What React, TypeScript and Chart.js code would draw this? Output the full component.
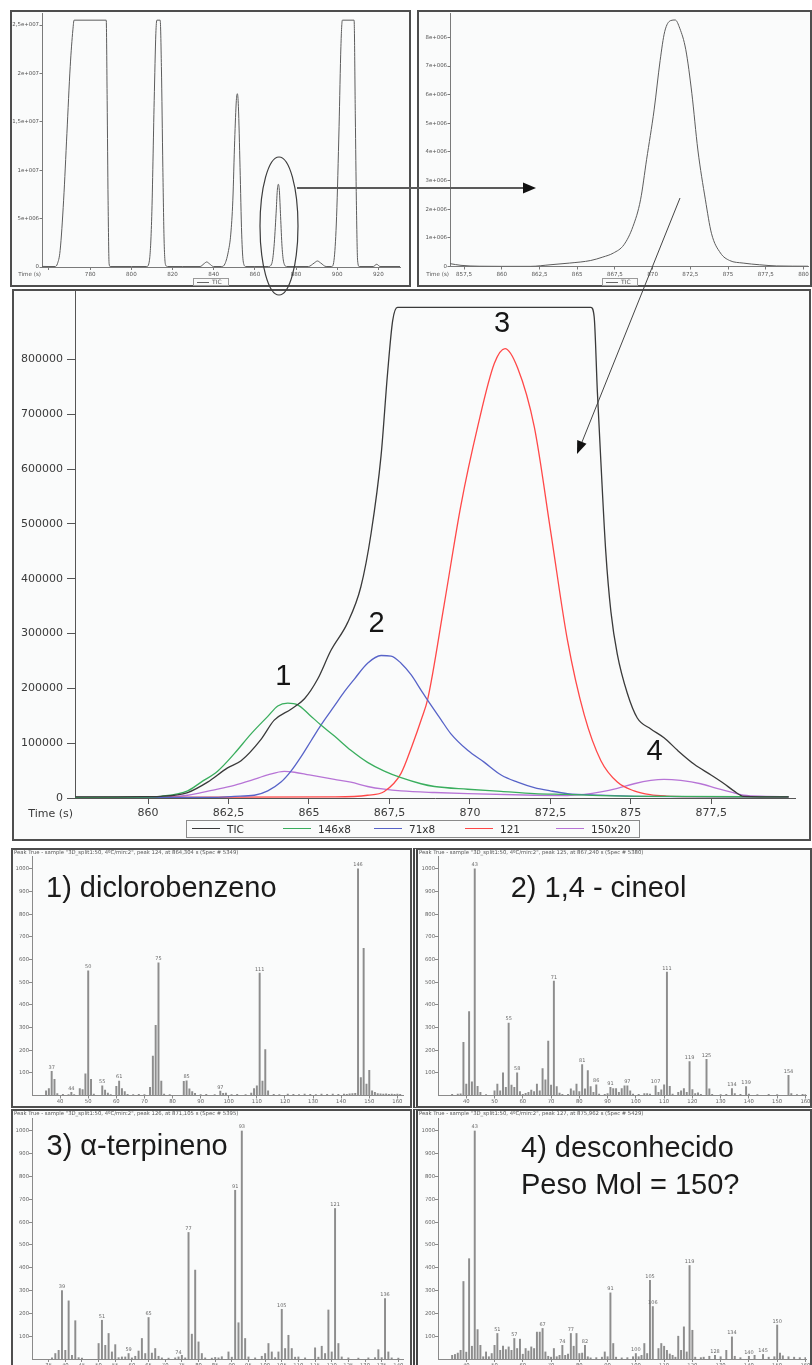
import React, { useEffect, useRef } from "react";
import { Chart, registerables } from "chart.js";

Chart.register(...registerables);

type Pair = [number, number];
type Frame = { cl: number; ct: number; cw: number; ch: number; al: number; at: number; ar: number; ab: number };

const UI_FONT = '"DejaVu Sans", Verdana, sans-serif';
const LABEL_FONT = '"Liberation Sans", Arial, sans-serif';

// ---------- Full run TIC (time s, counts) ----------
const runTic: Pair[] = [
  [756.6, 60000], [760, 50000], [763, 50000], [764.1, 340000], [765.4, 1700000], [767.1, 6900000],
  [768.7, 13800000], [770.3, 20700000], [771.6, 24500000], [772.2, 25500000], [787.8, 25500000],
  [788.25, 17200000], [788.7, 6900000], [789.2, 340000], [789.7, 50000], [800, 50000], [807.5, 50000],
  [808.8, 700000], [809.9, 5200000], [811.1, 17200000], [811.9, 24100000], [812.4, 25500000],
  [814.0, 25500000], [814.6, 20700000], [815.3, 10300000], [815.9, 2800000], [816.7, 170000],
  [817.7, 50000], [825, 50000], [833.4, 50000], [835.3, 340000], [836.6, 520000], [837.9, 340000],
  [839.9, 50000], [843.9, 50000], [845.5, 340000], [847.2, 1700000], [848.3, 3400000], [849.3, 6900000],
  [850.2, 13100000], [851.0, 17200000], [851.5, 17900000], [852.0, 16600000], [852.8, 10300000],
  [853.6, 3400000], [854.4, 500000], [855.6, 50000], [860, 50000], [866.6, 50000], [868.2, 340000],
  [869.3, 2100000], [870.3, 5500000], [870.9, 7900000], [871.4, 8550000], [871.9, 7900000],
  [872.5, 5200000], [873.2, 2100000], [874.0, 500000], [875.5, 50000], [880, 50000], [886.0, 50000],
  [888.8, 410000], [890.4, 620000], [892.0, 410000], [894.6, 50000], [897.3, 50000], [898.6, 1000000],
  [899.7, 5200000], [900.9, 14500000], [901.8, 22800000], [902.5, 25500000], [908.2, 25500000],
  [908.8, 15500000], [909.3, 6900000], [909.9, 700000], [910.7, 50000], [917.5, 50000],
  [919.2, 280000], [920.8, 50000], [930.5, 50000],
];

// ---------- TIC around 857-880 s ----------
const windowTic: Pair[] = [
  [856.57, 100000], [857.3, 40000], [858.5, 10000], [860, 5000], [861.9, 5000], [863.2, 60000],
  [864.5, 120000], [865.9, 210000], [866.7, 330000], [867.4, 470000], [868.1, 760000],
  [868.7, 1400000], [869.2, 2330000], [869.6, 3730000], [870.1, 5470000], [870.5, 7200000],
  [870.8, 8200000], [871.2, 8590000], [871.5, 8610000], [871.8, 8320000], [872.2, 7570000],
  [872.6, 6050000], [873.0, 4070000], [873.5, 2330000], [873.9, 1160000], [874.5, 470000],
  [875.1, 210000], [876.0, 120000], [877.1, 60000], [878.2, 20000], [880.33, 10000],
];

// ---------- Detail: TIC and extracted ions ----------
const ticTrace: Pair[] = [
  [857.73, 2000], [859, 2000], [860, 2500], [860.4, 3000], [861.23, 10000], [861.85, 29000],
  [862.47, 55000], [862.89, 68000], [863.51, 107000], [863.92, 142000], [864.44, 162000],
  [864.86, 181000], [865.27, 217000], [865.68, 269000], [866.2, 320000], [866.61, 385000],
  [866.93, 483000], [867.24, 625000], [867.44, 774000], [867.6, 871000], [867.75, 895000],
  [873.76, 895000], [873.86, 878000], [873.96, 741000], [874.07, 612000], [874.22, 450000],
  [874.38, 340000], [874.58, 262000], [874.89, 191000], [875.2, 146000], [875.62, 126000],
  [876.03, 110000], [876.45, 87000], [876.97, 61500], [877.49, 42000], [877.9, 26000],
  [878.2, 13000], [878.5, 3000], [879.9, 2000],
];
const ion146x8: Pair[] = [
  [857.73, 1000], [860, 1500], [860.4, 3000], [861.23, 13000], [861.65, 29000], [862.16, 49000],
  [862.68, 81000], [863.2, 117000], [863.72, 149000], [864.03, 168000], [864.34, 173000],
  [864.65, 170000], [865.01, 152000], [865.37, 133000], [865.79, 113000], [866.3, 87000],
  [866.82, 65000], [867.34, 49000], [867.86, 37000], [868.48, 26000], [868.9, 21000],
  [869.93, 16000], [870.97, 12000], [872, 8000], [873, 6500], [874.07, 4500], [876.1, 3000],
  [879.9, 2000],
];
const ion71x8: Pair[] = [
  [857.73, 1000], [862, 1000], [862.68, 3000], [863.3, 5000], [863.72, 13000], [864.13, 29000],
  [864.44, 49000], [864.75, 75000], [865.06, 104000], [865.37, 133000], [865.79, 168000],
  [866.1, 194000], [866.41, 217000], [866.82, 246000], [867.24, 260000], [867.55, 259000],
  [867.86, 246000], [868.17, 225000], [868.48, 197000], [868.69, 178000], [869.1, 143000],
  [869.41, 117000], [869.93, 87000], [870.45, 65000], [870.97, 42000], [871.48, 29000],
  [872, 19000], [872.5, 13000], [873.03, 8000], [874.07, 5000], [875.1, 3000], [879.9, 2000],
];
const ion121: Pair[] = [
  [857.73, 1000], [865.79, 2000], [866.82, 5000], [867.34, 12000], [867.86, 45000], [868.2, 95000],
  [868.5, 145000], [868.69, 181000], [869.2, 353000], [869.72, 534000], [870.24, 677000],
  [870.76, 793000], [871.09, 820000], [871.48, 785000], [872, 677000], [872.52, 482000],
  [873.03, 288000], [873.55, 152000], [874.07, 68000], [874.58, 29000], [875.1, 13000],
  [875.6, 6000], [876.1, 3500], [877, 2500], [879.9, 2000],
];
const ion150x20: Pair[] = [
  [857.73, 1000], [860.5, 1500], [861.23, 5000], [861.65, 10000], [862.16, 16000], [862.68, 23000],
  [863.2, 32000], [863.72, 42000], [864.23, 48500], [864.55, 47000], [865.01, 42000],
  [865.79, 34000], [866.3, 29000], [866.82, 21000], [867.34, 16000], [867.86, 13000],
  [868.9, 10000], [869.93, 8000], [872, 5000], [873.03, 4500], [873.55, 6500], [874.07, 11000],
  [874.58, 17500], [875.1, 26000], [875.62, 32000], [876.03, 34000], [876.55, 32000],
  [877.17, 26000], [877.67, 17500], [878.18, 10000], [878.5, 5000], [879.2, 3000], [879.9, 2000],
];

const legendNames = ["TIC", "146x8", "71x8", "121", "150x20"];
const traceColors = ["#3a3a3a", "#3aae5e", "#5763c8", "#ff4848", "#b774d6"];
const peakNumbers = [
  { text: "1", t: 864.2, v: 221000 },
  { text: "2", t: 867.1, v: 317500 },
  { text: "3", t: 871.0, v: 865000 },
  { text: "4", t: 875.74, v: 84000 },
];

// ---------- Axis ticks ----------
const runTimeTicks = [760, 780, 800, 820, 840, 860, 880, 900, 920];
const runCountTicks = [0, 5000000, 10000000, 15000000, 20000000, 25000000];
const windowTimeTicks = [857.5, 860, 862.5, 865, 867.5, 870, 872.5, 875, 877.5, 880];
const windowCountTicks = [0, 1000000, 2000000, 3000000, 4000000, 5000000, 6000000, 7000000, 8000000];
const detailTimeTicks = [860, 862.5, 865, 867.5, 870, 872.5, 875, 877.5];
const detailCountTicks = [0, 100000, 200000, 300000, 400000, 500000, 600000, 700000, 800000];
const massTicks = [40, 50, 60, 70, 80, 90, 100, 110, 120, 130, 140, 150, 160];
const massTicksFine = [35, 40, 45, 50, 55, 60, 65, 70, 75, 80, 85, 90, 95, 100, 105, 110, 115, 120, 125, 130, 135, 140];
const intensityTicks = [100, 200, 300, 400, 500, 600, 700, 800, 900, 1000];

// ---------- Mass spectra (m/z, intensity) ----------
const spectrumDichlorobenzene: Pair[] = [
  [35, 21], [36, 31], [37, 107], [38, 71], [39, 8], [41, 5], [43, 4], [44, 14], [45, 4], [47, 31],
  [48, 26], [49, 96], [50, 550], [51, 71], [52, 6], [55, 43], [56, 24], [57, 11], [58, 4], [60, 40],
  [61, 64], [62, 31], [63, 17], [64, 5], [66, 4], [68, 5], [70, 4], [72, 36], [73, 174], [74, 310],
  [75, 585], [76, 64], [77, 6], [79, 4], [84, 62], [85, 65], [86, 29], [87, 17], [88, 10], [90, 4],
  [92, 5], [95, 4], [97, 19], [98, 10], [99, 11], [101, 4], [103, 5], [106, 4], [108, 11], [109, 31],
  [110, 43], [111, 540], [112, 64], [113, 203], [114, 21], [116, 5], [118, 4], [121, 6], [123, 5],
  [125, 4], [127, 6], [129, 5], [131, 4], [133, 6], [135, 5], [137, 6], [139, 5], [141, 6], [142, 5],
  [143, 7], [144, 8], [145, 10], [146, 1000], [147, 79], [148, 650], [149, 50], [150, 111],
  [151, 21], [152, 14], [153, 8], [154, 7], [155, 6], [156, 7], [157, 5], [158, 6], [159, 5],
  [160, 6], [161, 5],
];
const labelsDichlorobenzene = [37, 44, 50, 55, 61, 75, 85, 97, 111, 146];

const spectrumCineole: Pair[] = [
  [35, 5], [37, 6], [38, 7], [39, 235], [40, 50], [41, 370], [42, 60], [43, 1000], [44, 40], [45, 14],
  [47, 4], [50, 21], [51, 50], [52, 21], [53, 100], [54, 36], [55, 320], [56, 46], [57, 36], [58, 100],
  [59, 17], [60, 5], [61, 10], [62, 14], [63, 24], [64, 17], [65, 50], [66, 21], [67, 119], [68, 69],
  [69, 240], [70, 46], [71, 505], [72, 39], [73, 11], [74, 5], [76, 5], [77, 29], [78, 21], [79, 50],
  [80, 17], [81, 136], [82, 29], [83, 110], [84, 39], [85, 14], [86, 47], [87, 6], [89, 5], [90, 8],
  [91, 36], [92, 31], [93, 31], [94, 14], [95, 31], [96, 43], [97, 43], [98, 21], [99, 6], [101, 5],
  [103, 8], [104, 8], [105, 6], [107, 43], [108, 14], [109, 25], [110, 47], [111, 545], [112, 40],
  [113, 6], [115, 14], [116, 21], [117, 30], [118, 14], [119, 150], [120, 26], [121, 8], [122, 12],
  [123, 5], [125, 160], [126, 29], [127, 5], [130, 4], [132, 5], [134, 31], [135, 8], [137, 5],
  [139, 39], [140, 6], [143, 4], [147, 5], [150, 4], [154, 89], [155, 8], [157, 4], [159, 5], [160, 4],
];
const labelsCineole = [43, 55, 58, 71, 81, 86, 91, 97, 107, 111, 119, 125, 134, 139, 154];

const spectrumTerpinene: Pair[] = [
  [36, 5], [37, 24], [38, 38], [39, 300], [40, 38], [41, 255], [42, 16], [43, 168], [44, 6], [45, 4],
  [50, 68], [51, 170], [52, 60], [53, 112], [54, 31], [55, 63], [56, 6], [57, 9], [58, 9], [59, 24],
  [60, 5], [61, 12], [62, 35], [63, 90], [64, 24], [65, 182], [66, 26], [67, 46], [68, 12], [69, 5],
  [71, 4], [73, 5], [74, 9], [75, 16], [76, 5], [77, 555], [78, 109], [79, 390], [80, 75], [81, 24],
  [82, 5], [84, 4], [85, 7], [86, 5], [87, 10], [89, 31], [90, 8], [91, 740], [92, 159], [93, 1000],
  [94, 90], [95, 9], [97, 5], [99, 12], [100, 24], [101, 68], [102, 31], [103, 6], [104, 31],
  [105, 218], [106, 46], [107, 104], [108, 46], [109, 8], [110, 9], [112, 5], [115, 49], [116, 8],
  [117, 56], [118, 24], [119, 215], [120, 31], [121, 660], [122, 68], [123, 9], [125, 5], [128, 4],
  [131, 5], [133, 6], [134, 41], [135, 6], [136, 265], [137, 31], [138, 5], [140, 4],
];
const labelsTerpinene = [39, 51, 59, 65, 74, 77, 91, 93, 105, 121, 136];

const spectrumUnknown: Pair[] = [
  [35, 16], [36, 20], [37, 26], [38, 38], [39, 340], [40, 30], [41, 440], [42, 56], [43, 1000],
  [44, 129], [45, 60], [46, 10], [47, 31], [48, 10], [49, 24], [50, 60], [51, 112], [52, 38], [53, 57],
  [54, 41], [55, 53], [56, 38], [57, 90], [58, 46], [59, 87], [60, 21], [61, 46], [62, 35], [63, 53],
  [64, 46], [65, 118], [66, 118], [67, 134], [68, 31], [69, 12], [70, 8], [71, 46], [72, 10], [73, 16],
  [74, 60], [75, 16], [76, 22], [77, 112], [78, 56], [79, 112], [80, 24], [81, 26], [82, 60], [83, 10],
  [84, 5], [86, 6], [88, 8], [89, 31], [90, 10], [91, 290], [92, 68], [93, 8], [95, 5], [97, 6],
  [99, 10], [100, 24], [101, 10], [102, 16], [103, 68], [104, 24], [105, 345], [106, 230], [108, 46],
  [109, 68], [110, 56], [111, 38], [112, 22], [113, 16], [114, 8], [115, 100], [116, 38], [117, 141],
  [118, 31], [119, 410], [120, 126], [121, 8], [123, 6], [124, 8], [126, 12], [128, 16], [130, 10],
  [132, 38], [134, 97], [135, 12], [137, 6], [140, 12], [142, 16], [145, 20], [147, 8], [149, 10],
  [150, 149], [151, 26], [152, 14], [154, 10], [156, 8], [158, 6], [160, 6],
];
const labelsUnknown = [43, 51, 57, 67, 74, 77, 82, 91, 100, 105, 106, 119, 128, 134, 140, 145, 150];

const spectrumHeaders = [
  'Peak True - sample "3D_split1:50, 4ºC/min:2", peak 124, at 864,304 s (Spec # 5349)',
  'Peak True - sample "3D_split1:50, 4ºC/min:2", peak 125, at 867,240 s (Spec # 5380)',
  'Peak True - sample "3D_split1:50, 4ºC/min:2", peak 126, at 871,105 s (Spec # 5395)',
  'Peak True - sample "3D_split1:50, 4ºC/min:2", peak 127, at 875,962 s (Spec # 5429)',
];

// ---------- Layout frames (canvas rect + plot area, page px) ----------
const runFrame: Frame = { cl: 12, ct: 5, cw: 397, ch: 280, al: 42, at: 13, ar: 400, ab: 267 };
const windowFrame: Frame = { cl: 419, ct: 5, cw: 393, ch: 280, al: 450, at: 13, ar: 808, ab: 266.5 };
const detailFrame: Frame = { cl: 14, ct: 276, cw: 796, ch: 562, al: 75, at: 291, ar: 795, ab: 798 };
const specFrames: Frame[] = [
  { cl: 13, ct: 850, cw: 397, ch: 256, al: 32, at: 856, ar: 403, ab: 1095.5 },
  { cl: 418, ct: 850, cw: 394, ch: 256, al: 438, at: 856, ar: 806, ab: 1095.5 },
  { cl: 13, ct: 1111, cw: 397, ch: 254, al: 32, at: 1118, ar: 403, ab: 1359 },
  { cl: 418, ct: 1111, cw: 394, ch: 254, al: 438, at: 1118, ar: 806, ab: 1359 },
];

const commaDecimal = (v: number) => String(v).replace(".", ",");
const sciLabel = (v: number) => {
  if (v === 0) return "0";
  const e = Math.floor(Math.log10(v) + 1e-9);
  const m = Math.round((v / Math.pow(10, e)) * 100) / 100;
  return `${commaDecimal(m)}e+${String(e).padStart(3, "0")}`;
};

interface AxisOpts {
  min: number; max: number; ticks: number[]; format: (v: number) => string;
  size: number; text: string; line: string; tickLength: number; padding: number;
}

function axis(o: AxisOpts, fit: (s: any) => void) {
  return {
    type: "linear",
    min: o.min,
    max: o.max,
    offset: false,
    afterBuildTicks: (s: any) => {
      s.ticks = o.ticks.map((value) => ({ value }));
    },
    afterFit: fit,
    border: { display: true, color: o.line, width: 1 },
    grid: { display: true, drawOnChartArea: false, drawTicks: true, tickLength: o.tickLength, color: o.line, offset: false },
    ticks: {
      color: o.text,
      font: { family: UI_FONT, size: o.size },
      padding: o.padding,
      autoSkip: false,
      maxRotation: 0,
      minRotation: 0,
      callback: (v: any) => o.format(Number(v)),
    },
  };
}

function baseOptions(f: Frame, x: AxisOpts, y: AxisOpts) {
  return {
    responsive: false,
    animation: false,
    events: [],
    layout: { padding: { left: 0, bottom: 0, top: f.at - f.ct, right: f.cl + f.cw - f.ar } },
    plugins: { legend: { display: false }, tooltip: { enabled: false } },
    scales: {
      x: axis(x, (s) => { s.height = f.ct + f.ch - f.ab; }),
      y: axis(y, (s) => { s.width = f.al - f.cl; }),
    },
  };
}

function chromatogram(f: Frame, traces: { points: Pair[]; color: string; width: number }[], x: AxisOpts, y: AxisOpts, decorate: (c: any) => void) {
  return {
    type: "line",
    data: {
      datasets: traces.map((t) => ({
        data: t.points.map(([px, py]) => ({ x: px, y: py })),
        borderColor: t.color,
        borderWidth: t.width,
        pointRadius: 0,
        cubicInterpolationMode: "monotone",
        fill: false,
      })),
    },
    options: baseOptions(f, x, y),
    plugins: [{ id: "decor", afterDraw: (c: any) => decorate(c) }],
  };
}

function timeLabel(c: any, f: Frame, right: number, y: number, size: number, color: string) {
  const ctx = c.ctx;
  ctx.save();
  ctx.font = `${size}px ${UI_FONT}`;
  ctx.fillStyle = color;
  ctx.textAlign = "right";
  ctx.textBaseline = "middle";
  ctx.fillText("Time (s)", right - f.cl, y - f.ct);
  ctx.restore();
}

const overviewAxes = (xMin: number, xMax: number, xTicks: number[], yMax: number, yTicks: number[]) => ({
  x: { min: xMin, max: xMax, ticks: xTicks, format: (v: number) => (v === 760 ? "" : commaDecimal(v)), size: 5.6, text: "#555", line: "#7a7a7a", tickLength: 3, padding: 1.5 },
  y: { min: 0, max: yMax, ticks: yTicks, format: sciLabel, size: 5.4, text: "#555", line: "#7a7a7a", tickLength: 2.5, padding: 0.5 },
});

function buildRun() {
  const a = overviewAxes(756.6, 930.5, runTimeTicks, 26240000, runCountTicks);
  return chromatogram(runFrame, [{ points: runTic, color: "#5c5c5c", width: 1 }], a.x, a.y, (c) =>
    timeLabel(c, runFrame, 41, 275, 5.6, "#555"));
}

function buildWindow() {
  const a = overviewAxes(856.57, 880.3, windowTimeTicks, 8854000, windowCountTicks);
  return chromatogram(windowFrame, [{ points: windowTic, color: "#5c5c5c", width: 1 }], a.x, a.y, (c) =>
    timeLabel(c, windowFrame, 449, 275, 5.6, "#555"));
}

function buildDetail() {
  const x: AxisOpts = { min: 857.73, max: 880.1, ticks: detailTimeTicks, format: commaDecimal, size: 11, text: "#3a3a3a", line: "#555", tickLength: 6, padding: 3 };
  const y: AxisOpts = { min: 0, max: 925000, ticks: detailCountTicks, format: String, size: 11, text: "#3a3a3a", line: "#555", tickLength: 8, padding: 4 };
  const traces = [ticTrace, ion146x8, ion71x8, ion121, ion150x20].map((points, i) => ({ points, color: traceColors[i], width: 1.3 }));
  return chromatogram(detailFrame, traces, x, y, (c) => {
    timeLabel(c, detailFrame, 73, 814, 11, "#3a3a3a");
    const ctx = c.ctx;
    ctx.save();
    ctx.font = `29px ${LABEL_FONT}`;
    ctx.fillStyle = "#151515";
    ctx.textAlign = "center";
    ctx.textBaseline = "middle";
    for (const p of peakNumbers) {
      ctx.fillText(p.text, c.scales.x.getPixelForValue(p.t), c.scales.y.getPixelForValue(p.v));
    }
    ctx.restore();
  });
}

function buildSpectrum(idx: number, points: Pair[], labelled: number[], xMax: number, xTicks: number[]) {
  const f = specFrames[idx];
  const x: AxisOpts = { min: 30, max: xMax, ticks: xTicks, format: String, size: 5.3, text: "#666", line: "#8a8a8a", tickLength: 3, padding: 0 };
  const y: AxisOpts = { min: 0, max: 1057, ticks: intensityTicks, format: String, size: 5.3, text: "#666", line: "#8a8a8a", tickLength: 3, padding: 0 };
  return {
    type: "bar",
    data: {
      datasets: [{
        data: points.map(([m, i]) => ({ x: m, y: i })),
        backgroundColor: "#8d8d8d",
        barThickness: 1.3,
        borderWidth: 0,
      }],
    },
    options: baseOptions(f, x, y),
    plugins: [{
      id: "decor",
      afterDraw: (c: any) => {
        const ctx = c.ctx;
        ctx.save();
        ctx.font = `5px ${UI_FONT}`;
        ctx.fillStyle = "#6a6a6a";
        ctx.textAlign = "center";
        ctx.textBaseline = "alphabetic";
        for (const mz of labelled) {
          const p = points.find((q) => q[0] === mz);
          if (!p) continue;
          ctx.fillText(String(mz), c.scales.x.getPixelForValue(mz), c.scales.y.getPixelForValue(p[1]) - 2.5);
        }
        ctx.font = `5.3px ${UI_FONT}`;
        ctx.fillStyle = "#555";
        ctx.textAlign = "left";
        ctx.textBaseline = "middle";
        ctx.fillText(spectrumHeaders[idx], 1, 3);
        ctx.restore();
      },
    }],
  };
}

function ChartCanvas({ frame, make }: { frame: Frame; make: () => any }) {
  const ref = useRef<HTMLCanvasElement | null>(null);
  useEffect(() => {
    if (!ref.current) return;
    const chart = new Chart(ref.current, make());
    return () => chart.destroy();
  }, []);
  return (
    <canvas
      ref={ref}
      width={frame.cw}
      height={frame.ch}
      style={{ position: "absolute", left: frame.cl, top: frame.ct, width: frame.cw, height: frame.ch }}
    />
  );
}

const panelBoxes = [
  { left: 10, top: 10, width: 401, height: 277, double: false },
  { left: 417, top: 10, width: 395, height: 277, double: false },
  { left: 12, top: 289, width: 799, height: 552, double: false },
  { left: 11, top: 848, width: 401, height: 260, double: false },
  { left: 413, top: 848, width: 399, height: 260, double: true },
  { left: 11, top: 1109, width: 401, height: 260, double: false },
  { left: 413, top: 1109, width: 399, height: 260, double: true },
];

const spectrumTitles = [
  { lines: ["1) diclorobenzeno"], left: 46, top: 872.5 },
  { lines: ["2) 1,4 - cineol"], left: 510.7, top: 872.5 },
  { lines: ["3) α-terpineno"], left: 46.5, top: 1130.5 },
  { lines: ["4) desconhecido", "Peso Mol = 150?"], left: 521, top: 1132.5 },
];

function SmallLegend({ left }: { left: number }) {
  return (
    <div style={{ position: "absolute", left, top: 278, width: 36, height: 8, border: "1px solid #9a9a9a", boxSizing: "border-box" }}>
      <div style={{ position: "absolute", left: 3, top: 3, width: 12, borderTop: "1px solid #666" }} />
      <div style={{ position: "absolute", left: 18, top: -1, font: `6px ${UI_FONT}`, lineHeight: "8px", color: "#555" }}>TIC</div>
    </div>
  );
}

export default function App() {
  return (
    <div style={{ position: "absolute", left: 0, top: 0, width: 812, height: 1365, background: "#ffffff", overflow: "hidden" }}>
      {panelBoxes.map((b, i) => (
        <div
          key={i}
          style={{
            position: "absolute",
            left: b.left,
            top: b.top,
            width: b.width,
            height: b.height,
            boxSizing: "border-box",
            border: "2px solid #4e4e4e",
            borderLeft: b.double ? "5px double #444" : "2px solid #4e4e4e",
            background: "#fafbfb",
          }}
        />
      ))}

      <ChartCanvas frame={runFrame} make={buildRun} />
      <ChartCanvas frame={windowFrame} make={buildWindow} />
      <ChartCanvas frame={detailFrame} make={buildDetail} />
      <ChartCanvas frame={specFrames[0]} make={() => buildSpectrum(0, spectrumDichlorobenzene, labelsDichlorobenzene, 162, massTicks)} />
      <ChartCanvas frame={specFrames[1]} make={() => buildSpectrum(1, spectrumCineole, labelsCineole, 160.2, massTicks)} />
      <ChartCanvas frame={specFrames[2]} make={() => buildSpectrum(2, spectrumTerpinene, labelsTerpinene, 141.4, massTicksFine)} />
      <ChartCanvas frame={specFrames[3]} make={() => buildSpectrum(3, spectrumUnknown, labelsUnknown, 160.2, massTicks)} />

      <SmallLegend left={193} />
      <SmallLegend left={602} />

      <div style={{ position: "absolute", left: 186, top: 820, width: 454, height: 18, border: "1px solid #8a8a8a", boxSizing: "border-box" }}>
        {legendNames.map((n, i) => (
          <React.Fragment key={n}>
            <div style={{ position: "absolute", left: 5 + i * 91, top: 7, width: 28, borderTop: `1px solid ${traceColors[i]}` }} />
            <div style={{ position: "absolute", left: 40 + i * 91, top: 0, font: `10.5px ${UI_FONT}`, lineHeight: "16px", color: "#333" }}>{n}</div>
          </React.Fragment>
        ))}
      </div>

      {spectrumTitles.map((t, i) => (
        <div key={i} style={{ position: "absolute", left: t.left, top: t.top, font: `29px ${LABEL_FONT}`, lineHeight: "37px", color: "#1b1b1b", whiteSpace: "nowrap" }}>
          {t.lines.map((l) => (
            <div key={l} style={{ height: 37, lineHeight: "29px" }}>{l}</div>
          ))}
        </div>
      ))}

      <svg width={812} height={1365} style={{ position: "absolute", left: 0, top: 0, pointerEvents: "none" }}>
        <ellipse cx={279} cy={226} rx={19} ry={69} fill="none" stroke="#3c3c3c" strokeWidth={1.2} />
        <line x1={297} y1={188} x2={524} y2={188} stroke="#5a5a5a" strokeWidth={2} />
        <polygon points="523,182.5 536,188 523,193.5" fill="#111" />
        <line x1={680} y1={198} x2={582} y2={442} stroke="#444" strokeWidth={1} />
        <polygon points="577,454 586.5,443.8 577.2,440.1" fill="#111" />
      </svg>
    </div>
  );
}
